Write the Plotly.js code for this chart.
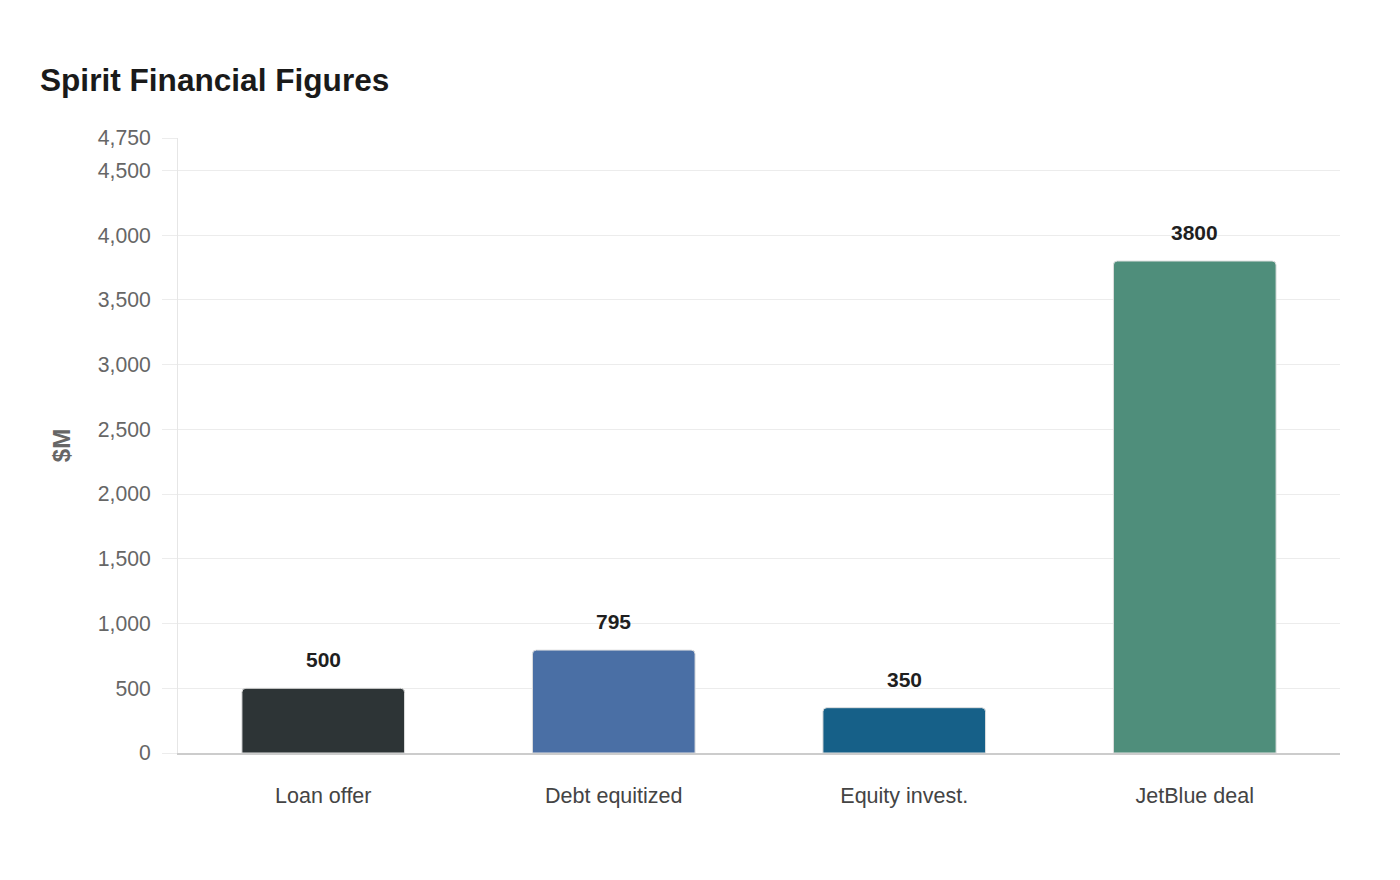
<!DOCTYPE html>
<html>
<head>
<meta charset="utf-8">
<script src="https://cdn.plot.ly/plotly-3.0.1.min.js"></script>
<style>html,body{margin:0;padding:0;background:#fff;}#chart{width:1400px;height:880px;}</style>
</head>
<body>
<div id="chart"></div>
<script>
const categories = ["Loan offer", "Debt equitized", "Equity invest.", "JetBlue deal"];
const values = [500, 795, 350, 3800];
const barColors = ["#2d3436", "#4a6fa5", "#166088", "#4f8e7b"];
const yTickVals = [0, 500, 1000, 1500, 2000, 2500, 3000, 3500, 4000, 4500, 4750];
const yTickText = ["0", "500", "1,000", "1,500", "2,000", "2,500", "3,000", "3,500", "4,000", "4,500", "4,750"];

const trace = {
  type: "bar",
  x: categories,
  y: values,
  marker: {color: barColors, cornerradius: 4, line: {color: "#e0e0e0", width: 1}},
  hoverinfo: "x+y",
  showlegend: false
};

const annotations = categories.map((c, i) => ({
  x: c, y: values[i], xref: "x", yref: "y",
  text: "<b>" + values[i] + "</b>",
  showarrow: false, yanchor: "bottom", yshift: 15,
  font: {family: "Liberation Sans, Arial, sans-serif", size: 21, color: "#1f1f1f"}
}));

const layout = {
  width: 1400, height: 880,
  paper_bgcolor: "#fff", plot_bgcolor: "#fff",
  margin: {l: 178, r: 60, t: 138, b: 127},
  font: {family: "Liberation Sans, Arial, sans-serif"},
  title: {text: "<b>Spirit Financial Figures</b>", x: 40/1400, xanchor: "left", y: 1 - 80/880, yanchor: "middle",
          font: {size: 31.6, color: "#1a1a1a"}},
  bargap: 0.44,
  xaxis: {
    type: "category",
    tickfont: {size: 21.5, color: "#444"},
    showline: true, linecolor: "#cccccc", linewidth: 2,
    ticks: "", ticklabelstandoff: 22,
    showgrid: false
  },
  yaxis: {
    range: [0, 4750],
    tickvals: yTickVals, ticktext: yTickText,
    tickfont: {size: 21.2, color: "#666"},
    gridcolor: "#ececec", gridwidth: 1,
    ticks: "outside", ticklen: 15, tickcolor: "#ececec",
    ticklabelstandoff: 7,
    showline: true, linecolor: "#e6e6e6", linewidth: 1,
    zeroline: false,
    title: {text: "<b>$M</b>", font: {size: 24, color: "#666"}, standoff: 20}
  },
  annotations: annotations
};

Plotly.newPlot("chart", [trace], layout, {displayModeBar: false, staticPlot: true});
</script>
</body>
</html>
